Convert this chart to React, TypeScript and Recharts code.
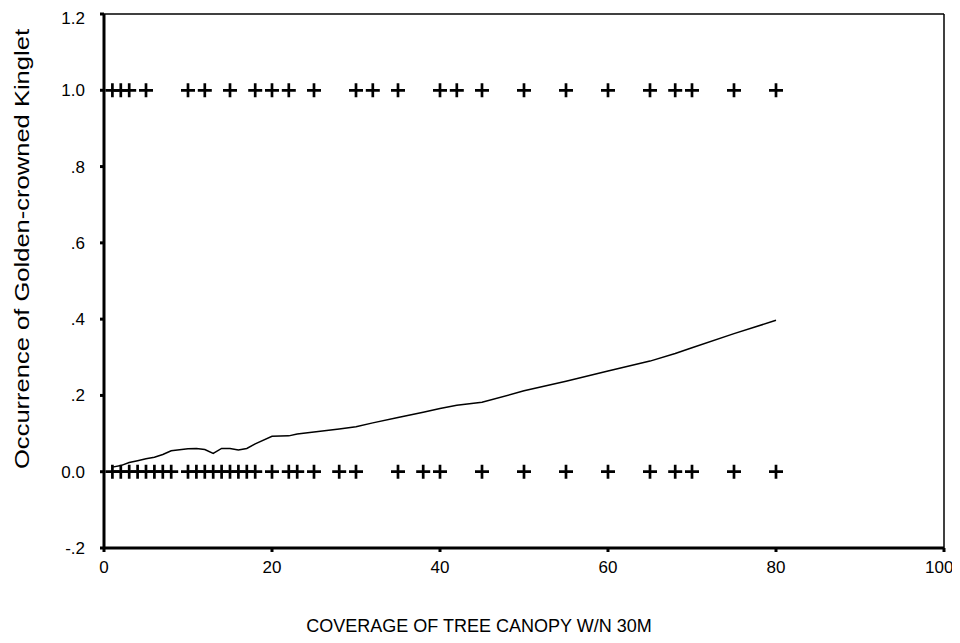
import React from 'react';
import { ComposedChart, Line, Scatter, XAxis, YAxis, ReferenceLine, Label } from 'recharts';

// observed presence (y = 1) and absence (y = 0) by canopy cover
const presentX = [1, 2, 3, 5, 10, 12, 15, 18, 20, 22, 25, 30, 32, 35, 40, 42, 45, 50, 55, 60, 65, 68, 70, 75, 80];
const absentX = [1, 2, 3, 4, 5, 6, 7, 8, 10, 11, 12, 13, 14, 15, 16, 17, 18, 20, 22, 23, 25, 28, 30, 35, 38, 40, 45, 50, 55, 60, 65, 68, 70, 75, 80];

// smoothed fit
const fitX = [1, 2, 3, 4, 5, 6, 7, 8, 10, 11, 12, 13, 14, 15, 16, 17, 18, 20, 22, 23, 25, 28, 30, 32, 35, 38, 40, 42, 45, 50, 55, 60, 65, 68, 70, 75, 80];
const fitY = [0.012, 0.016, 0.024, 0.029, 0.034, 0.038, 0.045, 0.055, 0.06, 0.061, 0.058, 0.048, 0.061, 0.061, 0.057, 0.061, 0.073, 0.093, 0.094, 0.099, 0.104, 0.112, 0.118, 0.128, 0.142, 0.156, 0.166, 0.174, 0.182, 0.212, 0.237, 0.264, 0.29, 0.31, 0.325, 0.362, 0.397];

const xTicks = [0, 20, 40, 60, 80, 100];
const yTicks = [-0.2, 0, 0.2, 0.4, 0.6, 0.8, 1.0, 1.2];

const present = presentX.map((x) => ({ x, y: 1 }));
const absent = absentX.map((x) => ({ x, y: 0 }));
const fit = fitX.map((x, i) => ({ x, y: fitY[i] }));

const font = '"Liberation Sans", Arial, sans-serif';

const fmtY = (v: number) => {
  if (v === 0) return '0.0';
  if (v === 1) return '1.0';
  return v.toFixed(1).replace(/^(-?)0\./, '$1.');
};

const Cross = (props: any) => {
  const { cx, cy } = props;
  if (cx == null || cy == null) return null;
  return <path d={`M${cx - 7},${cy}h14M${cx},${cy - 7}v14`} stroke="#000" strokeWidth={2.7} fill="none" />;
};

const XTitle = (props: any) => {
  const vb = props.viewBox;
  return (
    <text x={vb.x + vb.width / 2 - 45} y={vb.y + 84} textAnchor="middle" fontSize={18} fontFamily={font} fill="#000">
      COVERAGE OF TREE CANOPY W/N 30M
    </text>
  );
};

// the original title is stretched along its length
const YTitle = (props: any) => {
  const vb = props.viewBox;
  const x = vb.x + 21;
  const y = vb.y + vb.height / 2 - 32;
  return (
    <text
      x={x}
      y={y}
      transform={`rotate(-90 ${x} ${y})`}
      textAnchor="middle"
      fontSize={21}
      textLength={440}
      lengthAdjust="spacingAndGlyphs"
      fontFamily={font}
      fill="#000"
    >
      Occurrence of Golden-crowned Kinglet
    </text>
  );
};

export default function App() {
  return (
    <div style={{ width: 944, height: 627, background: '#fff' }}>
      <ComposedChart width={944} height={627} margin={{ top: 6, right: 8, left: 0, bottom: 0 }}>
        <XAxis
          type="number"
          dataKey="x"
          domain={[0, 100]}
          ticks={xTicks}
          height={87}
          axisLine={{ stroke: '#000', strokeWidth: 3 }}
          tickLine={{ stroke: '#000', strokeWidth: 3 }}
          tickSize={4}
          tickMargin={9}
          tick={{ fill: '#000', fontSize: 17, fontFamily: font }}
        >
          <Label content={<XTitle />} />
        </XAxis>
        <YAxis
          type="number"
          dataKey="y"
          domain={[-0.2, 1.2]}
          ticks={yTicks}
          width={96}
          tickFormatter={fmtY}
          axisLine={{ stroke: '#000', strokeWidth: 3 }}
          tickLine={{ stroke: '#000', strokeWidth: 3 }}
          tickSize={4}
          tickMargin={15}
          tick={{ fill: '#000', fontSize: 17, fontFamily: font }}
        >
          <Label content={<YTitle />} />
        </YAxis>
        <ReferenceLine y={1.2} stroke="#000" strokeWidth={1.5} />
        <ReferenceLine x={100} stroke="#000" strokeWidth={1.5} />
        <Line data={fit} dataKey="y" type="linear" stroke="#000" strokeWidth={1.5} dot={false} isAnimationActive={false} />
        <Scatter data={present} shape={<Cross />} isAnimationActive={false} />
        <Scatter data={absent} shape={<Cross />} isAnimationActive={false} />
      </ComposedChart>
    </div>
  );
}
